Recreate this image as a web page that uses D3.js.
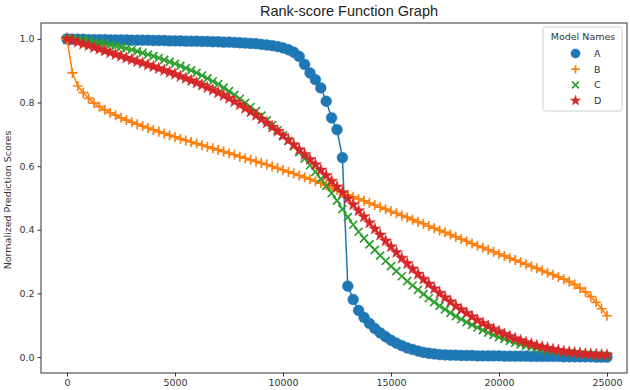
<!DOCTYPE html>
<html>
<head>
<meta charset="utf-8">
<script src="https://cdn.jsdelivr.net/npm/d3@7"></script>
<style>
  html, body { margin: 0; padding: 0; background: #fff; }
  svg { display: block; }
</style>
</head>
<body>
<svg id="chart" width="630" height="390"></svg>
<script>
// ---------- data ----------
const ranks = [0,250,500,750,1000,1250,1500,1750,2000,2250,2500,2750,3000,3250,3500,3750,4000,4250,4500,4750,
  5000,5250,5500,5750,6000,6250,6500,6750,7000,7250,7500,7750,8000,8250,8500,8750,9000,9250,9500,9750,
  10000,10250,10500,10750,11000,11250,11500,11750,12000,12250,12500,12750,13000,13250,13500,13750,14000,14250,14500,14750,
  15000,15250,15500,15750,16000,16250,16500,16750,17000,17250,17500,17750,18000,18250,18500,18750,19000,19250,19500,19750,
  20000,20250,20500,20750,21000,21250,21500,21750,22000,22250,22500,22750,23000,23250,23500,23750,24000,24250,24500,24750,25000];

const seriesA = [1.000,0.999,0.999,0.999,0.998,0.998,0.998,0.998,0.997,0.997,0.997,0.997,0.996,0.996,0.996,0.996,0.995,0.995,0.995,0.994,
  0.994,0.994,0.993,0.993,0.993,0.992,0.992,0.991,0.991,0.990,0.990,0.989,0.988,0.987,0.986,0.985,0.983,0.981,0.979,0.976,
  0.972,0.966,0.958,0.945,0.920,0.893,0.872,0.846,0.804,0.752,0.715,0.627,0.223,0.181,0.147,0.125,0.106,0.090,0.076,0.064,
  0.053,0.044,0.036,0.029,0.024,0.019,0.015,0.012,0.010,0.008,0.007,0.006,0.006,0.005,0.005,0.005,0.004,0.004,0.004,0.004,
  0.004,0.003,0.003,0.003,0.003,0.003,0.002,0.002,0.002,0.002,0.002,0.002,0.001,0.001,0.001,0.001,0.001,0.001,0.000,0.000,0.000];

const seriesB = [1.000,0.893,0.852,0.831,0.813,0.798,0.787,0.777,0.768,0.760,0.752,0.745,0.738,0.732,0.726,0.720,0.714,0.708,0.703,0.697,
  0.692,0.686,0.681,0.676,0.671,0.666,0.661,0.656,0.651,0.646,0.641,0.636,0.630,0.625,0.620,0.615,0.610,0.605,0.599,0.594,
  0.588,0.582,0.577,0.571,0.565,0.559,0.553,0.547,0.540,0.533,0.525,0.518,0.510,0.504,0.497,0.491,0.484,0.478,0.471,0.465,
  0.458,0.452,0.445,0.439,0.432,0.425,0.419,0.412,0.405,0.398,0.392,0.385,0.378,0.371,0.364,0.357,0.350,0.344,0.337,0.331,
  0.324,0.318,0.311,0.305,0.298,0.292,0.285,0.279,0.272,0.265,0.259,0.252,0.245,0.237,0.228,0.217,0.205,0.190,0.172,0.152,0.130];

const seriesC = [1.000,0.999,0.998,0.996,0.994,0.991,0.988,0.985,0.982,0.978,0.974,0.970,0.966,0.961,0.956,0.951,0.946,0.940,0.934,0.928,
  0.922,0.915,0.908,0.901,0.893,0.885,0.876,0.867,0.858,0.847,0.836,0.824,0.812,0.799,0.786,0.773,0.759,0.744,0.729,0.713,
  0.697,0.680,0.662,0.644,0.624,0.603,0.582,0.560,0.538,0.515,0.492,0.465,0.440,0.416,0.394,0.373,0.354,0.337,0.319,0.302,
  0.286,0.270,0.254,0.239,0.225,0.211,0.198,0.185,0.173,0.161,0.150,0.139,0.129,0.119,0.110,0.101,0.093,0.085,0.077,0.070,
  0.063,0.057,0.051,0.045,0.040,0.035,0.031,0.027,0.024,0.021,0.018,0.016,0.014,0.012,0.010,0.009,0.007,0.006,0.005,0.004,0.003];

const seriesD = [1.000,0.995,0.990,0.984,0.979,0.973,0.968,0.962,0.957,0.951,0.946,0.940,0.935,0.929,0.924,0.918,0.913,0.907,0.901,0.895,
  0.889,0.882,0.876,0.869,0.862,0.855,0.847,0.839,0.831,0.822,0.813,0.803,0.793,0.782,0.771,0.760,0.748,0.736,0.723,0.710,
  0.696,0.682,0.667,0.652,0.637,0.621,0.605,0.588,0.571,0.553,0.535,0.517,0.498,0.479,0.460,0.441,0.422,0.403,0.384,0.365,
  0.347,0.329,0.311,0.294,0.277,0.261,0.245,0.230,0.215,0.201,0.187,0.174,0.161,0.149,0.138,0.127,0.116,0.106,0.097,0.088,
  0.080,0.072,0.065,0.058,0.052,0.046,0.041,0.036,0.032,0.028,0.024,0.021,0.018,0.016,0.014,0.012,0.010,0.009,0.008,0.007,0.006];

const seriesNames = ["A", "B", "C", "D"];
const xTicks = [0, 5000, 10000, 15000, 20000, 25000];
const yTicks = [0.0, 0.2, 0.4, 0.6, 0.8, 1.0];
const titleText = "Rank-score Function Graph";
const yLabelText = "Normalized Prediction Scores";
const legendTitle = "Model Names";

// ---------- layout ----------
const colors = ["#1f77b4", "#ff7f0e", "#2ca02c", "#d62728"];
const markers = ["circle", "plus", "x", "star"];
const plot = { left: 41, right: 627, top: 23, bottom: 373 };

const svg = d3.select("#chart");
const x = d3.scaleLinear().domain([-1204, 25926]).range([plot.left, plot.right]);
const y = d3.scaleLinear().domain([-0.05, 1.05]).range([plot.bottom, plot.top]);

const fontTick = "'DejaVu Sans', sans-serif";

// markers
function markerPath(kind, s) {
  if (kind === "circle") return d3.symbol(d3.symbolCircle, Math.PI * s * s)();
  if (kind === "star") return d3.symbol(d3.symbolStar, s * s * 1.6)();
  if (kind === "plus") return `M${-s},0H${s}M0,${-s}V${s}`;
  if (kind === "x") { const h = s * 0.8; return `M${-h},${-h}L${h},${h}M${-h},${h}L${h},${-h}`; }
}
function styleMarker(sel, kind, color) {
  if (kind === "plus" || kind === "x") {
    sel.attr("fill", "none").attr("stroke", color).attr("stroke-width", 1.7);
  } else {
    sel.attr("fill", color).attr("stroke", color).attr("stroke-width", 0.5);
  }
}
const markerSize = { circle: 5.4, plus: 5, x: 5, star: 5.3 };

const allSeries = [seriesA, seriesB, seriesC, seriesD];
const line = d3.line().x(d => x(d[0])).y(d => y(d[1]));

allSeries.forEach((vals, si) => {
  const pts = ranks.map((r, i) => [r, vals[i]]);
  const g = svg.append("g");
  g.append("path").datum(pts).attr("d", line)
    .attr("fill", "none").attr("stroke", colors[si]).attr("stroke-width", 1.5);
  const kind = markers[si];
  const p = markerPath(kind, markerSize[kind]);
  const m = g.selectAll("path.m").data(pts).enter().append("path")
    .attr("class", "m")
    .attr("d", p)
    .attr("transform", d => `translate(${x(d[0])},${y(d[1])})`);
  styleMarker(m, kind, colors[si]);
});

// frame
svg.append("rect")
  .attr("x", plot.left).attr("y", plot.top)
  .attr("width", plot.right - plot.left).attr("height", plot.bottom - plot.top)
  .attr("fill", "none").attr("stroke", "#333").attr("stroke-width", 1);

// axes
const xAxis = svg.append("g").attr("transform", `translate(0,${plot.bottom})`)
  .call(d3.axisBottom(x).tickValues(xTicks).tickFormat(d3.format("d")).tickSize(3.5).tickPadding(3));
const yAxis = svg.append("g").attr("transform", `translate(${plot.left},0)`)
  .call(d3.axisLeft(y).tickValues(yTicks).tickFormat(d3.format(".1f")).tickSize(3.5).tickPadding(3));
[xAxis, yAxis].forEach(a => {
  a.select(".domain").remove();
  a.selectAll(".tick line").attr("stroke", "#333");
  a.selectAll(".tick text").attr("fill", "#333").style("font-family", fontTick).style("font-size", "9.5px");
});

// title
svg.append("text").attr("x", 349).attr("y", 16).attr("text-anchor", "middle")
  .style("font-family", "'Liberation Sans', Arial, sans-serif").style("font-size", "14.5px").attr("fill", "#222")
  .text(titleText);

// y label
svg.append("text").attr("transform", `translate(11,${(plot.top + plot.bottom) / 2 + 2}) rotate(-90)`)
  .attr("text-anchor", "middle")
  .style("font-family", fontTick).style("font-size", "9.5px").attr("fill", "#333")
  .text(yLabelText);

// legend
const lg = svg.append("g");
lg.append("rect").attr("x", 543).attr("y", 27).attr("width", 79).attr("height", 84)
  .attr("rx", 2.5).attr("fill", "#fff").attr("fill-opacity", 0.85).attr("stroke", "#d0d0d0").attr("stroke-width", 1);
lg.append("text").attr("x", 583).attr("y", 40).attr("text-anchor", "middle")
  .style("font-family", fontTick).style("font-size", "9.5px").attr("fill", "#333").text(legendTitle);
seriesNames.forEach((n, i) => {
  const cy = 53.5 + i * 15.7;
  const kind = markers[i];
  const m = lg.append("path").attr("d", markerPath(kind, markerSize[kind] * 0.85))
    .attr("transform", `translate(575.5,${cy})`);
  styleMarker(m, kind, colors[i]);
  lg.append("text").attr("x", 594).attr("y", cy + 3.5)
    .style("font-family", fontTick).style("font-size", "9.5px").attr("fill", "#333").text(n);
});
</script>
</body>
</html>
